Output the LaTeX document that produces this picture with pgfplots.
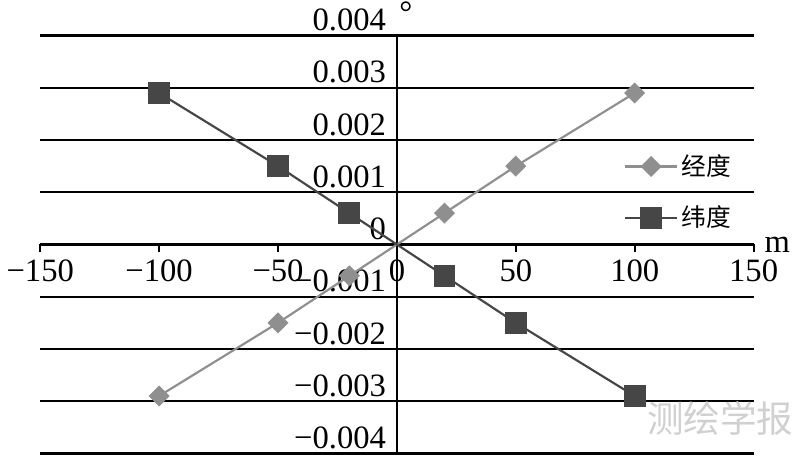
\documentclass[border=0pt]{standalone}
\usepackage{fontspec}
\setmainfont{Liberation Serif}
\newfontfamily\cjk{Noto Sans CJK SC}
\usepackage{pgfplots}
\pgfplotsset{compat=1.18}
\definecolor{lonc}{HTML}{8F8F8F}
\definecolor{latc}{HTML}{464646}
\definecolor{wmark}{HTML}{D0D0D0}

\begin{document}
\begin{tikzpicture}
\begin{axis}[
    scale only axis,
    width=361pt, height=211.5pt,
    xmin=-150, xmax=150,
    ymin=-0.004, ymax=0.004,
    clip=false,
    scaled y ticks=false,
    axis lines=middle,
    axis line style={line width=1.3pt, -},
    hide obscured x ticks=false,
    hide obscured y ticks=false,
    xtick={-150,-100,-50,0,50,100,150},
    xticklabels={−150,−100,−50,0,50,100,150},
    ytick={-0.004,-0.003,-0.002,-0.001,0,0.001,0.002,0.003,0.004},
    yticklabels={−0.004,−0.003,−0.002,−0.001,0,0.001,0.002,0.003,0.004},
    xtick align=outside,
    major tick length=4pt,
    tick style={black, line width=1pt},
    ytick style={draw=none},
    ymajorgrids,
    grid style={black, line width=1.2pt},
    every tick label/.append style={font=\fontsize{16.5}{19}\selectfont},
    yticklabel style={anchor=base east, yshift=2.5pt},
    xlabel={m},
    every axis x label/.style={at={(axis description cs:1,0.5)}, anchor=west,
        xshift=2pt, font=\fontsize{16.5}{19}\selectfont},
    ylabel={°},
    every axis y label/.style={at={(axis description cs:0.5,1)}, anchor=base west,
        yshift=6pt, inner sep=1pt, font=\fontsize{16.5}{19}\selectfont},
    legend style={draw=none, fill=none, at={(axis cs:93,0.001)}, anchor=west,
        font=\cjk\fontsize{12.5}{15}\selectfont, row sep=10pt},
    legend cell align=left,
    legend image code/.code={\draw[#1,mark repeat=2,mark phase=2]
        plot coordinates {(0pt,0pt) (13pt,0pt) (26pt,0pt)};},
]
\addplot[color=lonc, line width=1.1pt, mark=square*, mark size=3.2pt,
    mark options={rotate=45, fill=lonc, draw=lonc}]
    coordinates {(-100,-0.0029) (-50,-0.0015) (-20,-0.0006) (20,0.0006) (50,0.0015) (100,0.0029)};
\addlegendentry{经度}
\addplot[color=latc, line width=1.1pt, mark=square*, mark size=5pt,
    mark options={fill=latc, draw=latc}]
    coordinates {(-100,0.0029) (-50,0.0015) (-20,0.0006) (20,-0.0006) (50,-0.0015) (100,-0.0029)};
\addlegendentry{纬度}
\node[text=wmark, font=\cjk\fontsize{18.5}{20}\selectfont] at (axis cs:136,-0.00333) {测绘学报};
\end{axis}
\end{tikzpicture}
\end{document}
